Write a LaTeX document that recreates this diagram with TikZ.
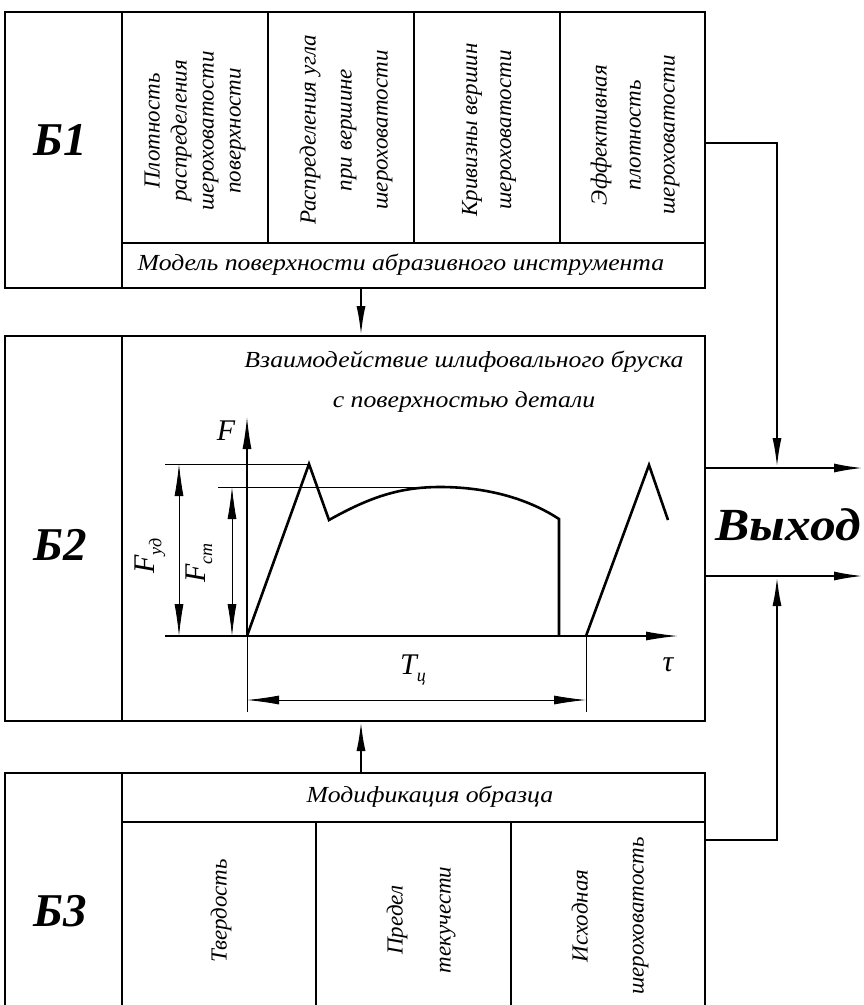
\documentclass[tikz,border=0pt]{standalone}
\usepackage{fontspec}
\setmainfont{Liberation Serif}
\usetikzlibrary{arrows.meta,positioning}

\tikzset{
  blk/.style={draw, line width=2.4pt, inner sep=0pt, outer sep=0pt, anchor=north west},
  frame/.style={line width=2.4pt},
  tx/.style={font=\itshape\fontsize{23}{28}\selectfont, inner sep=0pt, align=center},
  htx/.style={tx, xscale=1.12},
  vtx/.style={tx, rotate=90, font=\itshape\fontsize{23}{#1}\selectfont},
  vtx/.default=34,
  bnum/.style={font=\bfseries\itshape\fontsize{47}{50}\selectfont, inner sep=0pt},
  conn/.style={line width=2.4pt, -{Latex[length=30pt,width=9pt]}},
  prof/.style={line width=2.6pt, line join=miter},
  axis/.style={line width=1.3pt, -{Latex[length=32pt,width=9pt]}},
  dimarr/.style={line width=0.8pt, {Latex[length=32pt,width=9pt]}-{Latex[length=32pt,width=9pt]}},
  ext/.style={line width=0.9pt},
  glab/.style={font=\itshape\fontsize{30}{30}\selectfont, inner sep=0pt}
}
\newcommand{\sublab}[1]{\raisebox{-7pt}{\fontsize{18}{18}\selectfont #1}}

\begin{document}
\begin{tikzpicture}[x=1pt, y=-1pt]
    \useasboundingbox (0,0) rectangle (864,1005);

    % Block frames
    \node[blk, minimum width=700pt, minimum height=276pt] (B1) at (5,12) {};
    \node[blk, minimum width=700pt, minimum height=385pt] (B2) at (5,336) {};
    \node[blk, minimum width=700pt, minimum height=235pt] (B3) at (5,773) {};

    % Label column of every block
    \foreach \b in {B1,B2,B3}
        \draw[frame] ([xshift=117pt]\b.north west) -- ([xshift=117pt]\b.south west);

    % Cells of B1
    \draw[frame] (122,243) -- (705,243);
    \foreach \x in {268,414,560}
        \draw[frame] (\x,12) -- (\x,243);

    % Cells of B3
    \draw[frame] (122,822) -- (705,822);
    \foreach \x in {316,511}
        \draw[frame] (\x,822) -- (\x,1008);

    % Block labels
    \node[bnum] (n1) at (60,140) {Б1};
    \node[bnum] (n2) at (60,545) {Б2};
    \node[bnum] (n3) at (60,911) {Б3};

    % Texts of B1
    \node[vtx=27] (p1) at (195,131) {Плотность\\распределения\\шероховатости\\поверхности};
    \node[vtx=36] (p2) at (346,130) {Распределения угла\\при вершине\\шероховатости};
    \node[vtx] (p3) at (489,130) {Кривизны вершин\\шероховатости};
    \node[vtx] (p4) at (635,135) {Эффективная\\плотность\\шероховатости};
    \node[htx] (model) at (401,265) {Модель поверхности абразивного инструмента};

    % Texts of B3
    \node[htx] (modif) at (430,797) {Модификация образца};
    \node[vtx] (q1) at (221,911) {Твердость};
    \node[vtx=48] (q2) at (421,920) {Предел\\текучести};
    \node[vtx=56] (q3) at (610,916) {Исходная\\шероховатость};

    % Title of B2
    \node[htx, font=\itshape\fontsize{23}{40}\selectfont] (title) at (464,382)
        {Взаимодействие шлифовального бруска\\с поверхностью детали};

    % Force graph: axes
    \coordinate (O) at (247,636);
    \draw[ext] (247,712) -- (O);
    \draw[axis] (O) -- (247,417);
    \draw[axis] (165,636) -- (678,636);
    \node[glab] (F) at (226,431) {F};
    \node[glab] (tau) at (668,665) {τ};

    % Force graph: profile
    \draw[prof] (O) -- (309,464) -- (329,520)
        .. controls (370,497) and (400,487) .. (440,487)
        .. controls (490,487) and (530,500) .. (559,519) -- (559,636);
    \draw[prof] (586,636) -- (649,465) -- (668,520);

    % Force graph: dimensions
    \draw[ext] (165,464) -- (309,464);
    \draw[ext] (218,487) -- (440,487);
    \draw[dimarr] (179,464) -- (179,636);
    \draw[dimarr] (232,487) -- (232,636);
    \node[glab, rotate=90] (fud) at (150,556) {F\sublab{уд}};
    \node[glab, rotate=90] (fst) at (199,563) {F\sublab{ст}};
    \draw[ext] (586,636) -- (586,712);
    \draw[dimarr] (247,700) -- (586,700);
    \node[glab] (tc) at (413,670) {T\sublab{ц}};

    % Connectors between blocks
    \draw[conn] ([xshift=6pt]B1.south) -- ([xshift=6pt]B2.north);
    \draw[conn] ([xshift=6pt]B3.north) -- ([xshift=6pt]B2.south);

    % Output
    \coordinate (oa) at ([yshift=60.5pt]B2.east);
    \coordinate (ob) at ([yshift=-47.5pt]B2.east);
    \coordinate (ja) at (777,468);
    \coordinate (jb) at (777,576);
    \draw[conn] (oa) -- ++(159,0);
    \draw[conn] (ob) -- ++(159,0);
    \node[bnum, xscale=1.12, font=\bfseries\itshape\fontsize{46}{46}\selectfont] (out) at (788,525) {Выход};
    \draw[conn] ([yshift=7pt]B1.east) -| (ja);
    \draw[conn] ([yshift=50.5pt]B3.east) -| (jb);
\end{tikzpicture}
\end{document}
